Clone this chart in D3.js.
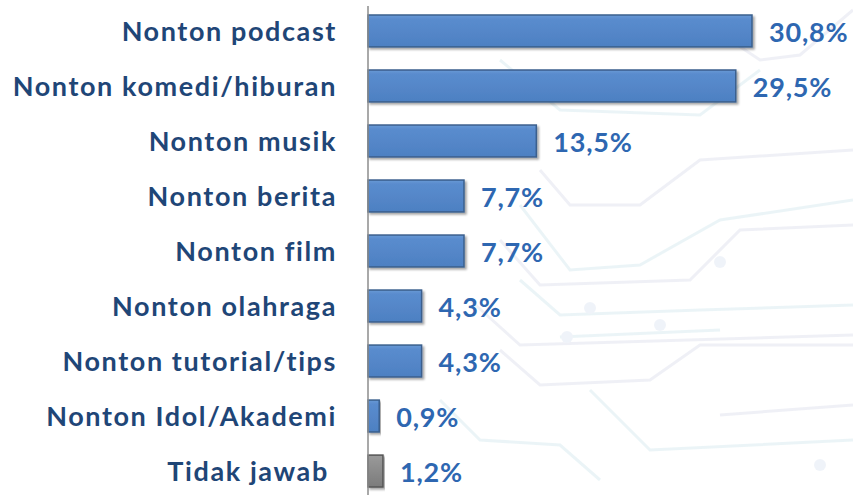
<!DOCTYPE html>
<html>
<head>
<meta charset="utf-8">
<script src="https://cdn.jsdelivr.net/npm/d3@7"></script>
<style>
  html, body { margin: 0; padding: 0; background: #ffffff; }
  svg { display: block; }
  .cat { font-family: Lato, "Open Sans", sans-serif; font-weight: 700; fill: #1f4677; white-space: pre;
         letter-spacing: 1.6px; font-variant-ligatures: none; }
  .val { font-family: Lato, "Open Sans", sans-serif; font-weight: 700; fill: #2e67b1; letter-spacing: 0.8px; }
</style>
</head>
<body>
<div id="chart"></div>
<script>
const categories = [
    "Nonton podcast",
    "Nonton komedi/hiburan",
    "Nonton musik",
    "Nonton berita",
    "Nonton film",
    "Nonton olahraga",
    "Nonton tutorial/tips",
    "Nonton Idol/Akademi",
    "Tidak jawab "
];
const values = [30.8, 29.5, 13.5, 7.7, 7.7, 4.3, 4.3, 0.9, 1.2];
const valueLabels = ["30,8%", "29,5%", "13,5%", "7,7%", "7,7%", "4,3%", "4,3%", "0,9%", "1,2%"];
const greyCategories = ["Tidak jawab "];

const width = 853, height = 495;

const svg = d3.select("#chart").append("svg")
    .attr("width", width)
    .attr("height", height);

const defs = svg.append("defs");

const blueGrad = defs.append("linearGradient")
    .attr("id", "blueGrad").attr("x1", 0).attr("y1", 0).attr("x2", 0).attr("y2", 1);
blueGrad.append("stop").attr("offset", "0%").attr("stop-color", "#6a9ad6");
blueGrad.append("stop").attr("offset", "12%").attr("stop-color", "#5a8cce");
blueGrad.append("stop").attr("offset", "100%").attr("stop-color", "#4d80c2");

const greyGrad = defs.append("linearGradient")
    .attr("id", "greyGrad").attr("x1", 0).attr("y1", 0).attr("x2", 0).attr("y2", 1);
greyGrad.append("stop").attr("offset", "0%").attr("stop-color", "#9a9a9a");
greyGrad.append("stop").attr("offset", "100%").attr("stop-color", "#7b7b7b");

const shadow = defs.append("filter").attr("id", "shadow")
    .attr("x", "-5%").attr("y", "-20%").attr("width", "115%").attr("height", "160%");
shadow.append("feDropShadow")
    .attr("dx", 2).attr("dy", 2).attr("stdDeviation", 1.2)
    .attr("flood-color", "#000").attr("flood-opacity", 0.35);

// faint circuit-board decoration in the background
const deco = svg.append("g").attr("fill", "none").attr("stroke-width", 3).attr("opacity", 0.28);
const traces = [
    [[540, 170], [570, 205], [640, 205], [700, 160], [853, 150]],
    [[520, 205], [570, 270], [640, 265], [720, 220], [853, 200]],
    [[500, 240], [540, 285], [690, 280], [740, 230], [853, 225]],
    [[520, 280], [560, 315], [700, 310], [853, 305]],
    [[470, 300], [520, 345], [853, 335]],
    [[560, 337], [720, 330]],
    [[500, 350], [540, 385], [650, 380], [700, 345], [853, 345]],
    [[590, 390], [650, 450], [853, 440]],
    [[720, 415], [853, 405]],
    [[440, 400], [480, 440], [560, 445], [600, 480]],
    [[700, 20], [760, 60], [800, 55], [853, 10]],
    [[500, 60], [560, 110], [700, 115], [760, 70]]
];
const line = d3.line();
deco.selectAll("path").data(traces).join("path")
    .attr("d", line)
    .attr("stroke", (d, i) => i % 2 ? "#b9dbe3" : "#c7cbe0");
deco.selectAll("circle").data([[720, 262], [590, 308], [660, 325], [567, 337], [820, 465]]).join("circle")
    .attr("cx", d => d[0]).attr("cy", d => d[1]).attr("r", 6)
    .attr("fill", "#c9d6ea").attr("stroke", "none");

const x = d3.scaleLinear()
    .domain([0, 30.8])
    .range([368, 752]);

const y = d3.scaleBand()
    .domain(categories)
    .range([4, 498])
    .paddingInner(0.42)
    .paddingOuter(0.2);

const g = svg.append("g");

g.selectAll(".bar").data(categories).join("rect")
    .attr("class", "bar")
    .attr("x", x(0))
    .attr("y", d => y(d))
    .attr("width", (d, i) => x(values[i]) - x(0))
    .attr("height", y.bandwidth())
    .attr("fill", d => greyCategories.includes(d) ? "url(#greyGrad)" : "url(#blueGrad)")
    .attr("stroke", d => greyCategories.includes(d) ? "#555" : "#3a5f8d")
    .attr("stroke-width", 1.5)
    .attr("filter", "url(#shadow)");

// axis line
svg.append("line")
    .attr("x1", x(0)).attr("x2", x(0))
    .attr("y1", 6).attr("y2", height)
    .attr("stroke", "#8c8c8c")
    .attr("stroke-width", 1.5);

g.selectAll(".cat").data(categories).join("text")
    .attr("class", "cat")
    .attr("x", 337)
    .attr("y", d => y(d) + y.bandwidth() / 2)
    .attr("dy", "0.36em")
    .attr("text-anchor", "end")
    .attr("font-size", 27)
    .text(d => d);

g.selectAll(".val").data(categories).join("text")
    .attr("class", "val")
    .attr("x", (d, i) => x(values[i]) + 17)
    .attr("y", d => y(d) + y.bandwidth() / 2)
    .attr("dy", "0.4em")
    .attr("font-size", 27)
    .text((d, i) => valueLabels[i]);
</script>
</body>
</html>
